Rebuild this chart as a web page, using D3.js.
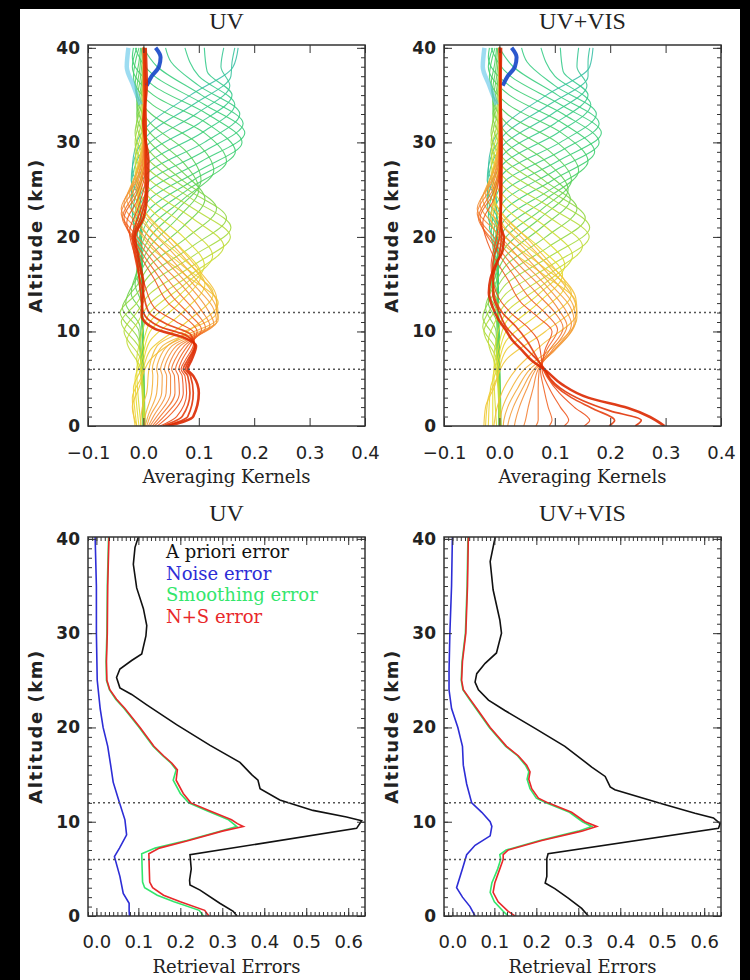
<!DOCTYPE html>
<html>
<head>
<meta charset="utf-8">
<script src="https://cdn.jsdelivr.net/npm/d3@7"></script>
<style>
  body { margin: 0; background: #000; }
  svg { display: block; }
  .axis line { stroke: #333; stroke-width: 1; }
  .xlab text { font-family: "DejaVu Sans"; font-size: 18px; fill: #222; }
  .ylab text { font-family: "DejaVu Sans"; font-weight: bold; font-size: 17px; fill: #222; }
</style>
</head>
<body>
<div id="chart"></div>
<script>
// averaging kernels, one array per retrieval level (0..40 km)
// flat pairs: altitude (km), kernel value (in units of 0.001)
var kernelsUV = [
  [0,45, 1,90, 3.5,100, 5.3,90, 6,80, 7,87, 8.5,95, 9.3,75, 10.3,20, 11.7,-3, 13,-2, 15,0, 17,-6, 20,-15, 22,0, 24,6, 28,9, 32,0, 36,6, 40,4],
  [0,40, 1,80, 3.5,90, 5.3,85, 6,76, 7,83, 8.5,93, 9.5,80, 10.5,30, 12,0, 14,-5, 17,-10, 20,-18, 22,-5, 25,5, 30,5, 40,2],
  [0,35, 1,70, 3.5,84, 5.3,80, 6,72, 7,80, 8.5,92, 9.7,85, 10.7,45, 12,10, 14,0, 17,-12, 20,-20, 22,-10, 25,4, 30,4, 40,0],
  [0,30, 1,60, 3.5,78, 5.3,75, 6,68, 7,76, 8.5,90, 9.8,92, 11,60, 12.5,20, 15,2, 18,-15, 20.5,-25, 23,-10, 26,3, 30,3, 40,0],
  [0,25, 1,45, 3.5,72, 5.3,70, 6,64, 7,70, 8.5,85, 10,97, 11.5,75, 13,45, 15.5,20, 18.5,-10, 21.5,-30, 24,-10, 27,3, 32,2, 40,0],
  [0,20, 1,37, 3.5,65, 5.3,63, 6,58, 7,64, 8.5,80, 10.2,105, 11.7,85, 13.5,55, 16,25, 19,-10, 22,-35, 24.5,-12, 27.5,2, 40,0],
  [0,16, 1,30, 3.5,57, 5.3,56, 6,51, 7,57, 8.5,74, 10.4,112, 12,95, 14,65, 16.5,30, 19.5,-10, 22,-38, 25,-12, 28,2, 40,0],
  [0,12, 1,24, 3.5,49, 5.3,49, 6,45, 7,50, 8.5,67, 10.6,120, 12.2,105, 14.5,75, 17,35, 20,-10, 22.5,-40, 25.5,-12, 28.5,0, 40,0],
  [0,9, 1,18, 3.5,41, 5.3,42, 6,38, 7,43, 8.5,60, 10.8,127, 12.4,115, 15,80, 17.5,40, 20.5,-5, 23,-40, 26,-12, 29,0, 40,0],
  [0,6, 1,12, 3.5,33, 5.3,34, 6,31, 7,36, 8.5,52, 11,132, 12.6,125, 15,90, 18,45, 21,-5, 23.5,-35, 26.5,-10, 29.5,0, 40,0],
  [0,3, 1,8, 3.5,24, 5.3,26, 6,24, 7,28, 8.5,44, 11.2,135, 12.8,130, 15.5,95, 18.5,50, 21.5,0, 24,-30, 27,-10, 30,0, 40,0],
  [0,0, 1,3, 3.5,15, 5.3,17, 6,16, 7,20, 8.5,35, 11.5,135, 13,133, 16,100, 19,55, 22,5, 24.5,-25, 27.5,-8, 30.5,0, 40,0],
  [0,-5, 2,-2, 3.5,6, 6,10, 8.5,25, 12,132, 13.5,132, 16.5,100, 19.5,55, 22.5,5, 25,-20, 28,-8, 31,0, 40,0],
  [0,-12, 2,-20, 4,-8, 7,12, 10,80, 13,135, 16,75, 19,12, 22,-15, 25,-5, 30,3, 40,0],
  [0,-15, 3,-20, 5,-5, 8,12, 11,78, 14,126, 17,70, 20,10, 23,-12, 26,-4, 31,4, 40,0],
  [0,-12, 4,-18, 6,-4, 9,12, 12,70, 15,111, 18,66, 21,10, 24,-10, 27,-3, 32,4, 40,0],
  [0,-8, 5,-15, 7,-3, 10,12, 13,65, 16,104, 19,65, 22,10, 25,-12, 28,-4, 33,3, 40,0],
  [0,-4, 6,-12, 8,-3, 11,12, 14,68, 17,110, 20,72, 23,12, 26,-14, 29,-4, 34,3, 40,0],
  [0,0, 5,-4, 7,-12, 9,-6, 12,12, 15,75, 18,125, 21,80, 24,13, 27,-15, 30,-4, 35,3, 40,0],
  [0,2, 6,-5, 9,-30, 11,-10, 13,12, 16,85, 19,145, 22,88, 25,13, 28,-15, 31,-4, 36,2, 40,0],
  [0,3, 7,-5, 10,-35, 12,-12, 14,12, 17,90, 20,157, 23,90, 26,12, 29,-15, 32,-4, 37,2, 40,0],
  [0,2, 8,-6, 11,-40, 13,-12, 15,12, 18,90, 21,158, 24,88, 27,12, 30,-15, 33,-4, 38,2, 40,0],
  [0,1, 9,-8, 12,-42, 14,-12, 16,12, 19,88, 22,150, 25,80, 28,12, 31,-15, 34,-4, 40,2],
  [0,0, 10,-8, 12.5,-38, 15,-10, 17,12, 20,80, 23,132, 26,70, 29,12, 32,-12, 35,-4, 40,2],
  [0,0, 10.5,-6, 13,-32, 16,-8, 18,12, 21,70, 24,111, 27,68, 30,12, 33,-12, 36,-4, 40,2],
  [0,2, 12,-4, 14,-22, 17,-6, 19,12, 22,62, 25,100, 28,70, 31,12, 34,-12, 37,-5, 40,0],
  [0,3, 13,-4, 15,-15, 18,-4, 20,12, 23,63, 26,104, 29,78, 32,13, 35,-13, 38,-6, 40,-3],
  [0,2, 14,-4, 16,-12, 19,-4, 21,12, 24,72, 27,127, 30,95, 33,14, 36,-15, 38.5,-8, 40,-5],
  [0,1, 15,-4, 17,-10, 20,-4, 22,12, 25,80, 28,150, 31,110, 34,16, 37,-18, 40,-8],
  [0,0, 16,-4, 18,-10, 21,-4, 23,12, 26,90, 29,166, 32,115, 35,18, 38,-20, 40,-12],
  [0,0, 17,-3, 19,-12, 22,-6, 24,12, 27,100, 30,178, 33,115, 36,18, 39,-20, 40,-18],
  [0,0, 18,-3, 20,-15, 23,-8, 25,12, 28,105, 31,183, 34,110, 37,20, 40,-15],
  [0,0, 19,-3, 21,-18, 24,-8, 26,12, 29,108, 32,180, 35,105, 38,25, 40,0],
  [0,0, 20,-4, 22,-20, 25,-10, 27,12, 30,110, 33,174, 36,100, 38.5,50, 40,40],
  [0,0, 21,-4, 23,-22, 26,-12, 28,12, 31,105, 34,165, 37,100, 40,75],
  [0,0, 22,-4, 24,-22, 27,-12, 29,12, 32,100, 35,160, 37.5,115, 40,110],
  [0,0, 23,-5, 25,-22, 28,-12, 30,12, 33,95, 36,156, 38,140, 40,145],
  [0,0, 24,-6, 26,-22, 29,-12, 31,12, 34,90, 37,158, 38.5,160, 40,165],
  [0,0, 25,-6, 27,-20, 30,-12, 32,12, 35,85, 38,162, 40,171],
  [34,-5, 36,-18, 38,-30, 40,-27],
  [36,6, 37,15, 38,28, 39,31, 40,22]
];

var kernelsVIS = [
  [0,298, 1.9,232, 3,160, 4.4,113, 5.9,83, 6.9,59, 8,41, 9.1,23, 10.2,11, 11.2,-1, 12.7,-13, 14.1,-19, 15.6,-16, 17.4,-4, 18.4,5, 19.9,8, 21.3,2, 25,3, 30,4, 35,2, 40,3],
  [0,245, 0.6,256, 1.6,200, 2.7,150, 4,110, 5,92, 6,82, 7.5,60, 9,35, 10.5,12, 12,0, 14,-12, 16,-10, 18,0, 21,4, 26,0, 40,2],
  [0,198, 0.6,208, 1.8,170, 3,130, 4.3,100, 6,80, 7.5,65, 9,50, 10.5,30, 12,5, 14,-10, 17,-12, 20,0, 24,4, 40,0],
  [0,153, 0.6,163, 2,135, 3.5,108, 5,88, 6,79, 7.5,75, 9,70, 10.5,50, 12,20, 14,-5, 17,-15, 20,-5, 24,3, 40,0],
  [0,117, 0.6,125, 2,110, 4,90, 6,77, 8,82, 10,95, 11.5,70, 13,40, 15.5,15, 18.5,-15, 21.5,-30, 24,-10, 28,2, 40,0],
  [0,90, 0.6,95, 2,88, 4,80, 6,74, 8,85, 10.2,105, 11.8,85, 13.5,55, 16,25, 19,-10, 22,-35, 24.5,-12, 28,2, 40,0],
  [0,66, 0.6,70, 2,70, 4,70, 6,72, 8,90, 10.4,115, 12,100, 14,68, 16.5,30, 19.5,-10, 22,-38, 25,-12, 28,2, 40,0],
  [0,44, 0.6,47, 2,52, 4,61, 6,70, 8,95, 10.6,122, 12.2,108, 14.5,78, 17,36, 20,-10, 22.5,-40, 25.5,-12, 29,0, 40,0],
  [0,27, 0.6,29, 2,36, 4,50, 6,66, 8,98, 10.8,130, 12.4,118, 15,82, 17.5,40, 20.5,-5, 23,-40, 26,-12, 29,0, 40,0],
  [0,15, 0.6,17, 2,25, 4,42, 6,62, 8,100, 11,135, 12.6,128, 15,92, 18,46, 21,-5, 23.5,-35, 26.5,-10, 30,0, 40,0],
  [0,7, 0.6,8, 2,15, 4,33, 6,55, 8,98, 11.2,138, 12.8,133, 15.5,97, 18.5,50, 21.5,0, 24,-30, 27,-10, 30,0, 40,0],
  [0,0, 2,6, 4,22, 6,45, 8,90, 11.5,140, 13,137, 16,102, 19,56, 22,5, 24.5,-25, 27.5,-8, 31,0, 40,0],
  [0,-10, 2,-4, 4,8, 6,30, 8.5,75, 12,140, 13.5,138, 16.5,102, 19.5,56, 22.5,5, 25,-20, 28,-8, 31,0, 40,0],
  [0,-28, 2,-25, 4,-10, 7,12, 10,83, 13,138, 16,80, 19,12, 22,-15, 25,-5, 30,3, 40,0],
  [0,-25, 3,-20, 5,-5, 8,12, 11,80, 14,130, 17,75, 20,10, 23,-12, 26,-4, 31,4, 40,0],
  [0,-20, 4,-16, 6,-4, 9,12, 12,73, 15,119, 18,70, 21,10, 24,-10, 27,-3, 32,4, 40,0],
  [0,-12, 5,-12, 7,-3, 10,12, 13,70, 16,114, 19,70, 22,10, 25,-12, 28,-4, 33,3, 40,0],
  [0,-5, 6,-10, 8,-3, 11,12, 14,72, 17,118, 20,76, 23,12, 26,-14, 29,-4, 34,3, 40,0],
  [0,0, 5,-4, 7,-10, 9,-6, 12,12, 15,80, 18,132, 21,85, 24,13, 27,-15, 30,-4, 35,3, 40,0],
  [0,2, 6,-5, 9,-20, 11,-8, 13,12, 16,88, 19,150, 22,92, 25,13, 28,-15, 31,-4, 36,2, 40,0],
  [0,3, 7,-5, 10,-28, 12,-10, 14,12, 17,93, 20,162, 23,95, 26,13, 29,-15, 32,-4, 37,2, 40,0],
  [0,2, 8,-6, 10.5,-30, 13,-10, 15,12, 18,93, 21,163, 24,95, 27,13, 30,-15, 33,-4, 38,2, 40,0],
  [0,1, 9,-6, 11.5,-30, 14,-10, 16,12, 19,90, 22,155, 25,88, 28,12, 31,-15, 34,-4, 40,2],
  [0,0, 10,-6, 12.5,-25, 15,-8, 17,12, 20,84, 23,140, 26,80, 29,12, 32,-12, 35,-4, 40,2],
  [0,0, 11,-5, 13,-20, 16,-6, 18,12, 21,76, 24,128, 27,80, 30,12, 33,-12, 36,-4, 40,2],
  [0,2, 12,-4, 14,-18, 17,-5, 19,12, 22,74, 25,124, 28,84, 31,12, 34,-12, 37,-5, 40,0],
  [0,3, 13,-4, 15,-14, 18,-4, 20,12, 23,78, 26,130, 29,92, 32,13, 35,-13, 38,-6, 40,-3],
  [0,2, 14,-4, 16,-12, 19,-4, 21,12, 24,84, 27,143, 30,104, 33,14, 36,-15, 38.5,-8, 40,-5],
  [0,1, 15,-4, 17,-10, 20,-4, 22,12, 25,92, 28,160, 31,112, 34,16, 37,-18, 40,-8],
  [0,0, 16,-4, 18,-10, 21,-4, 23,12, 26,96, 29,172, 32,115, 35,18, 38,-20, 40,-12],
  [0,0, 17,-3, 19,-12, 22,-6, 24,12, 27,100, 30,180, 33,115, 36,18, 39,-20, 40,-18],
  [0,0, 18,-3, 20,-15, 23,-8, 25,12, 28,105, 31,184, 34,110, 37,20, 40,-15],
  [0,0, 19,-3, 21,-18, 24,-8, 26,12, 29,108, 32,180, 35,105, 38,25, 40,0],
  [0,0, 20,-4, 22,-20, 25,-10, 27,12, 30,110, 33,175, 36,100, 38.5,50, 40,40],
  [0,0, 21,-4, 23,-22, 26,-12, 28,12, 31,105, 34,165, 37,100, 40,75],
  [0,0, 22,-4, 24,-22, 27,-12, 29,12, 32,100, 35,160, 37.5,115, 40,110],
  [0,0, 23,-5, 25,-22, 28,-12, 30,12, 33,95, 36,158, 38,140, 40,143],
  [0,0, 24,-6, 26,-22, 29,-12, 31,12, 34,90, 37,160, 38.5,160, 40,163],
  [0,0, 25,-6, 27,-20, 30,-12, 32,12, 35,85, 38,163, 40,169],
  [34,-5, 36,-18, 38,-30, 40,-27],
  [36,6, 37,15, 38,28, 39,31, 40,22]
];

// retrieval errors: [altitude (km), error]
var uvApriori = [[0,0.335],[0.5,0.326],[1.35,0.294],[2.75,0.247],[3.3,0.223],[3.8,0.222],[5,0.226],[6.5,0.223],[9.3,0.62],[10.1,0.632],[10.5,0.596],[11.2,0.516],[12.3,0.437],[13.5,0.39],[14.4,0.385],[15,0.37],[16.3,0.342],[18.1,0.271],[20.3,0.191],[22.4,0.12],[23.5,0.084],[24.2,0.056],[25.3,0.048],[26.2,0.056],[27.1,0.084],[27.8,0.108],[29.7,0.118],[30.8,0.12],[32.6,0.112],[34.8,0.096],[37.3,0.088],[39.1,0.092],[40.2,0.1]];
var uvNoise = [[0,0.079],[0.5,0.078],[1.35,0.078],[2.4,0.064],[4.2,0.056],[6.3,0.043],[7.2,0.055],[8.6,0.072],[10.2,0.068],[12.3,0.053],[14.2,0.04],[16,0.034],[18,0.027],[20,0.016],[22,0.009],[25,0.002],[30,0],[35,0],[40.2,-0.003]];
var uvSmoothing = [[0,0.255],[0.6,0.245],[1.5,0.185],[2.2,0.145],[3,0.115],[3.6,0.11],[5,0.109],[6.6,0.108],[7.2,0.14],[8,0.215],[9,0.295],[9.5,0.334],[9.8,0.326],[10.2,0.315],[11.2,0.262],[12,0.22],[13,0.2],[14.4,0.183],[15.5,0.19],[16.2,0.178],[17,0.158],[18,0.135],[20,0.102],[22,0.066],[23,0.046],[24,0.031],[25,0.024],[27,0.023],[30,0.025],[35,0.026],[40.2,0.029]];
var uvNS = [[0,0.268],[0.6,0.258],[1.5,0.2],[2.2,0.16],[3,0.134],[3.6,0.127],[5,0.126],[6.6,0.125],[7.2,0.15],[8,0.22],[9,0.3],[9.5,0.35],[9.8,0.336],[10.2,0.322],[11.2,0.268],[12,0.225],[13,0.207],[14.4,0.19],[15.5,0.193],[16.2,0.18],[17,0.16],[18,0.137],[20,0.104],[22,0.068],[23,0.048],[24,0.032],[25,0.025],[27,0.024],[30,0.026],[35,0.027],[40.2,0.03]];

var visApriori = [[0,0.324],[0.8,0.308],[1.9,0.276],[2.9,0.244],[3.5,0.221],[4.2,0.225],[6.1,0.225],[6.6,0.228],[9.3,0.634],[9.8,0.638],[10.4,0.622],[10.9,0.578],[11.9,0.499],[13.4,0.387],[13.7,0.376],[14.8,0.364],[15.8,0.332],[18,0.268],[19.9,0.197],[21.8,0.125],[22.9,0.086],[24,0.062],[24.8,0.054],[25.7,0.058],[26.8,0.078],[27.9,0.105],[30,0.117],[31.4,0.113],[34.6,0.097],[37.6,0.09],[40.2,0.102]];
var visNoise = [[0,0.054],[1,0.042],[2,0.024],[3,0.01],[5,0.024],[6.5,0.034],[7.5,0.054],[8.5,0.09],[9.5,0.094],[10,0.09],[11,0.07],[12,0.046],[14,0.034],[16,0.026],[18,0.024],[20,0.013],[22,-0.002],[24,-0.008],[26,-0.008],[30,-0.006],[35,-0.002],[40.2,0]];
var visSmoothing = [[0,0.133],[0.5,0.121],[1.5,0.1],[2.5,0.09],[3.5,0.094],[5,0.108],[6,0.115],[6.5,0.113],[7,0.128],[8,0.208],[9,0.3],[9.5,0.332],[10,0.31],[11,0.279],[12,0.223],[12.5,0.2],[13.5,0.185],[14.5,0.178],[15.3,0.182],[16,0.174],[17,0.155],[18,0.127],[20,0.088],[22,0.056],[23,0.04],[24,0.025],[25,0.021],[27,0.023],[30,0.031],[35,0.035],[40.2,0.037]];
var visNS = [[0,0.149],[0.5,0.133],[1.5,0.109],[2.5,0.097],[3.5,0.101],[5,0.113],[6,0.121],[6.5,0.121],[7,0.133],[8,0.213],[9,0.308],[9.5,0.344],[10,0.316],[11,0.284],[12,0.228],[12.5,0.205],[13.5,0.189],[14.5,0.182],[15.3,0.185],[16,0.177],[17,0.157],[18,0.129],[20,0.09],[22,0.058],[23,0.042],[24,0.026],[25,0.022],[27,0.024],[30,0.032],[35,0.036],[40.2,0.038]];

var kernelTicks = [-0.1, 0, 0.1, 0.2, 0.3, 0.4];
var errorTicks = [0, 0.1, 0.2, 0.3, 0.4, 0.5, 0.6];
var altTicks = [0, 10, 20, 30, 40];
var refAltitudes = [6, 12];
var legendLabels = ["A priori error", "Noise error", "Smoothing error", "N+S error"];

var width = 750, height = 980;

var svg = d3.select("#chart")
    .append("svg")
    .attr("width", width)
    .attr("height", height);

svg.append("rect").attr("width", width).attr("height", height).attr("fill", "#000");
svg.append("rect").attr("x", 20).attr("y", 9).attr("width", 720).attr("height", 971).attr("fill", "#fff");

var levelColor = d3.scaleLinear()
    .domain([0, 4, 8, 12, 16, 20, 24, 29, 35, 38, 39, 40])
    .range(["#dc2800", "#f0561e", "#f4913c", "#f4bf3a", "#e8db2e", "#b6dc3a",
            "#6cd24c", "#3ecf70", "#36cb8c", "#3cc0a8", "#5cc4e8", "#1446c8"]);

var errorColors = ["#111111", "#2d2dd6", "#33e66c", "#e8282a"];

function toPairs(flat) {
    var pts = [];
    for (var i = 0; i < flat.length; i += 2) pts.push([flat[i], flat[i + 1] / 1000]);
    return pts;
}

function makePanel(box, xDomain, yDomain, id) {
    var x = d3.scaleLinear().domain(xDomain).range([box.left, box.right]);
    var y = d3.scaleLinear().domain(yDomain).range([box.bottom, box.top]);
    svg.append("clipPath").attr("id", id)
        .append("rect")
        .attr("x", box.left).attr("y", box.top)
        .attr("width", box.right - box.left).attr("height", box.bottom - box.top);
    var plot = svg.append("g").attr("clip-path", "url(#" + id + ")");
    return {box: box, x: x, y: y, plot: plot};
}

function drawAxes(p, xTicks, xMinor, title, xTitle, labelPad) {
    var b = p.box;
    var axes = svg.append("g");

    // minor ticks
    if (xMinor) {
        axes.append("g").attr("class", "axis")
            .attr("transform", `translate(0,${b.bottom})`)
            .call(d3.axisBottom(p.x).tickValues(xMinor).tickSize(-4).tickFormat(""));
        axes.append("g").attr("class", "axis")
            .attr("transform", `translate(0,${b.top})`)
            .call(d3.axisTop(p.x).tickValues(xMinor).tickSize(-4).tickFormat(""));
    }
    var yMinor = d3.range(0, 41, 1);
    axes.append("g").attr("class", "axis")
        .attr("transform", `translate(${b.left},0)`)
        .call(d3.axisLeft(p.y).tickValues(yMinor).tickSize(-4).tickFormat(""));
    axes.append("g").attr("class", "axis")
        .attr("transform", `translate(${b.right},0)`)
        .call(d3.axisRight(p.y).tickValues(yMinor).tickSize(-4).tickFormat(""));

    // major ticks
    axes.append("g").attr("class", "axis xlab")
        .attr("transform", `translate(0,${b.bottom})`)
        .call(d3.axisBottom(p.x).tickValues(xTicks).tickSize(-8).tickPadding(labelPad)
            .tickFormat(d3.format(".1f")));
    axes.append("g").attr("class", "axis")
        .attr("transform", `translate(0,${b.top})`)
        .call(d3.axisTop(p.x).tickValues(xTicks).tickSize(-8).tickFormat(""));
    axes.append("g").attr("class", "axis ylab")
        .attr("transform", `translate(${b.left},0)`)
        .call(d3.axisLeft(p.y).tickValues(altTicks).tickSize(-8).tickPadding(8)
            .tickFormat(d3.format("d")));
    axes.append("g").attr("class", "axis")
        .attr("transform", `translate(${b.right},0)`)
        .call(d3.axisRight(p.y).tickValues(altTicks).tickSize(-8).tickFormat(""));

    axes.selectAll(".domain").remove();

    // dotted reference altitudes
    axes.selectAll(".ref")
        .data(refAltitudes)
        .enter()
        .append("line")
            .attr("x1", b.left).attr("x2", b.right)
            .attr("y1", function(d) { return p.y(d); })
            .attr("y2", function(d) { return p.y(d); })
            .attr("stroke", "#555")
            .attr("stroke-width", 1.5)
            .attr("stroke-dasharray", "2,3");

    axes.append("rect")
        .attr("x", b.left).attr("y", b.top)
        .attr("width", b.right - b.left).attr("height", b.bottom - b.top)
        .attr("fill", "none")
        .attr("stroke", "#333")
        .attr("stroke-width", 1.5);

    var cx = (b.left + b.right) / 2;
    svg.append("text")
        .attr("x", cx).attr("y", b.top - 24).attr("dy", "0.35em")
        .attr("text-anchor", "middle")
        .style("font-family", "Liberation Serif").style("font-size", "24px")
        .attr("fill", "#222")
        .text(title);

    svg.append("text")
        .attr("x", cx).attr("y", b.bottom + 51).attr("dy", "0.35em")
        .attr("text-anchor", "middle")
        .style("font-family", "DejaVu Serif").style("font-size", "18px")
        .attr("fill", "#222")
        .text(xTitle);

    svg.append("text")
        .attr("transform", "rotate(-90)")
        .attr("x", -(b.top + b.bottom) / 2).attr("y", b.left - 52).attr("dy", "0.35em")
        .attr("text-anchor", "middle")
        .style("font-family", "DejaVu Sans").style("font-weight", "bold")
        .style("font-size", "18px").style("letter-spacing", "1.5px")
        .attr("fill", "#222")
        .text("Altitude (km)");
}

function drawKernels(p, kernels) {
    var line = d3.line()
        .x(function(d) { return p.x(d[1]); })
        .y(function(d) { return p.y(d[0]); })
        .curve(d3.curveMonotoneY);

    // high levels first, the lowest (red) level on top
    var order = d3.range(38, 0, -1).concat([39, 40, 0]);
    p.plot.selectAll(".kernel")
        .data(order)
        .enter()
        .append("path")
            .attr("class", "kernel")
            .attr("d", function(lev) { return line(toPairs(kernels[lev])); })
            .attr("fill", "none")
            .attr("stroke", function(lev) { return levelColor(lev); })
            .attr("stroke-width", function(lev) {
                if (lev === 0) return 2.6;
                if (lev === 40) return 4;
                if (lev === 39) return 4.5;
                return lev < 3 ? 1.7 : 1.1;
            })
            .attr("stroke-opacity", function(lev) { return lev === 39 ? 0.6 : 0.9; });
}

function drawErrors(p, series) {
    var line = d3.line()
        .x(function(d) { return p.x(d[1]); })
        .y(function(d) { return p.y(d[0]); });

    p.plot.selectAll(".err")
        .data(series)
        .enter()
        .append("path")
            .attr("class", "err")
            .attr("d", function(d) { return line(d); })
            .attr("fill", "none")
            .attr("stroke", function(d, i) { return errorColors[i]; })
            .attr("stroke-width", 1.6);
}

var kernelMinor = null;
var errorMinor = d3.range(-0.02, 0.6401, 0.01);

var tl = makePanel({left: 88, right: 365, top: 45, bottom: 426}, [-0.1, 0.4], [0, 40.3], "clipTL");
drawKernels(tl, kernelsUV);
drawAxes(tl, kernelTicks, kernelMinor, "UV", "Averaging Kernels", 20);

var tr = makePanel({left: 444, right: 721, top: 45, bottom: 426}, [-0.1, 0.4], [0, 40.3], "clipTR");
drawKernels(tr, kernelsVIS);
drawAxes(tr, kernelTicks, kernelMinor, "UV+VIS", "Averaging Kernels", 20);

var bl = makePanel({left: 88, right: 365, top: 537, bottom: 916}, [-0.02, 0.64], [0, 40.2], "clipBL");
drawErrors(bl, [uvApriori, uvNoise, uvSmoothing, uvNS]);
drawAxes(bl, errorTicks, errorMinor, "UV", "Retrieval Errors", 19);

var br = makePanel({left: 444, right: 721, top: 537, bottom: 916}, [-0.02, 0.64], [0, 40.2], "clipBR");
drawErrors(br, [visApriori, visNoise, visSmoothing, visNS]);
drawAxes(br, errorTicks, errorMinor, "UV+VIS", "Retrieval Errors", 19);

// legend in the UV error panel
svg.selectAll(".legend")
    .data(legendLabels)
    .enter()
    .append("text")
        .attr("class", "legend")
        .attr("x", 166)
        .attr("y", function(d, i) { return 552 + i * 21.5; })
        .attr("dy", "0.35em")
        .style("font-family", "DejaVu Serif")
        .style("font-size", "18px")
        .attr("fill", function(d, i) { return errorColors[i]; })
        .text(function(d) { return d; });
</script>
</body>
</html>
